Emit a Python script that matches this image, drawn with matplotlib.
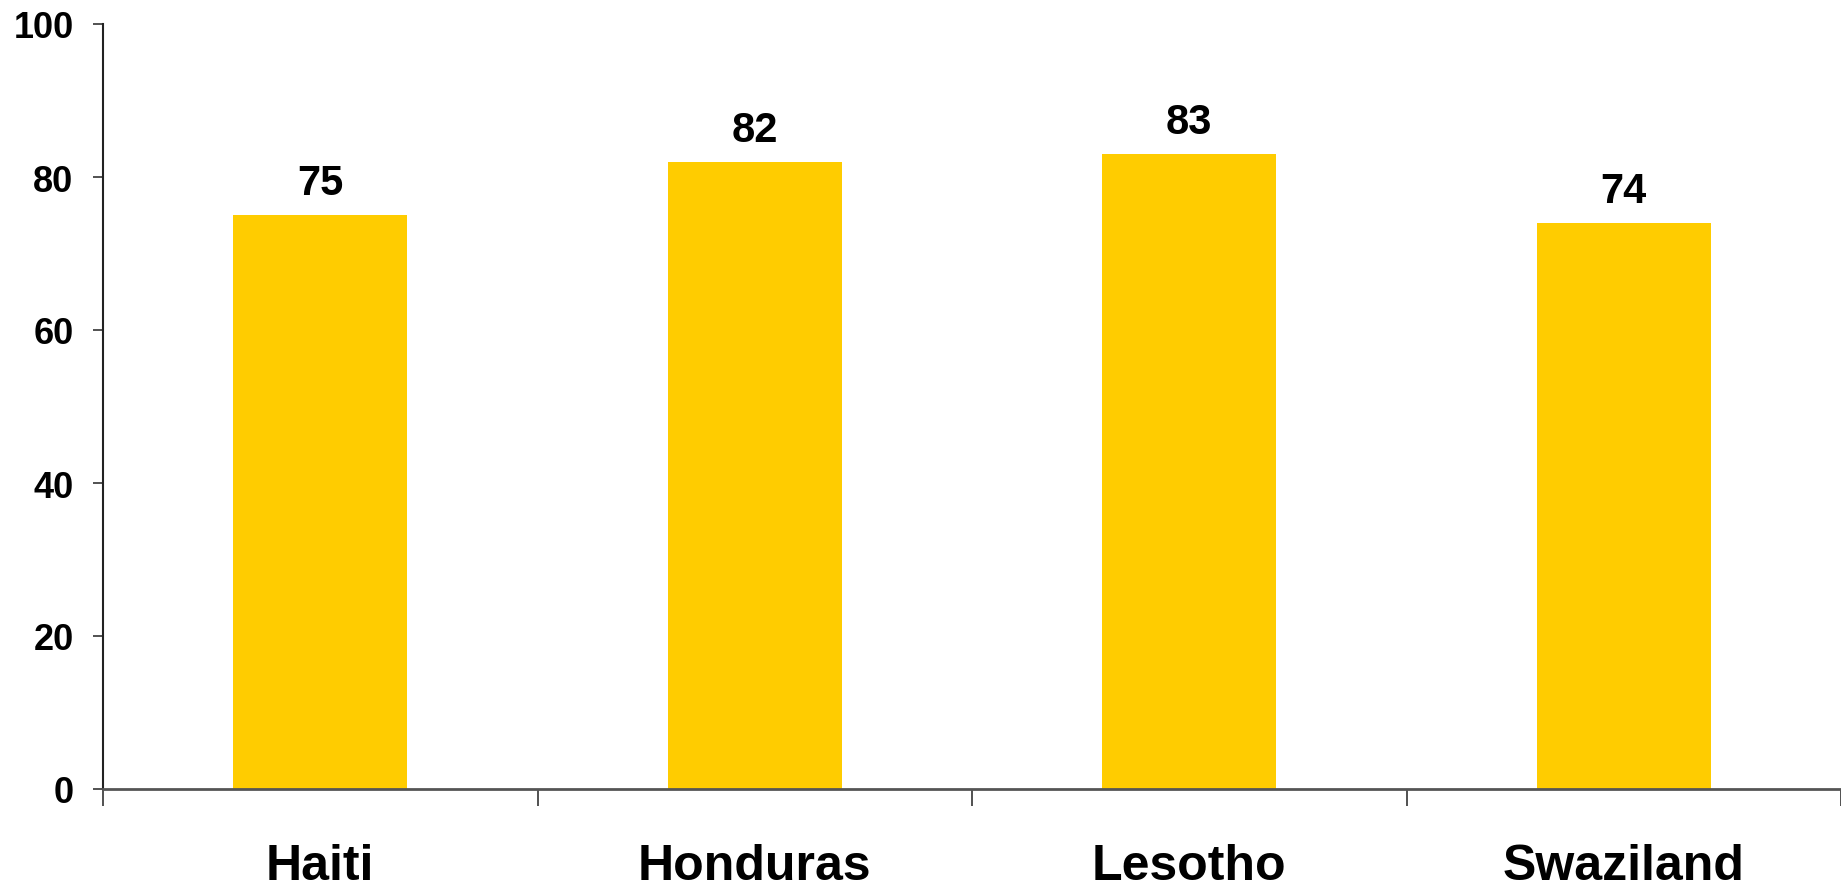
import matplotlib
matplotlib.use("Agg")
import matplotlib.pyplot as plt
import numpy as np

categories = ["Haiti", "Honduras", "Lesotho", "Swaziland"]
values = [75, 82, 83, 74]
yticks = [0, 20, 40, 60, 80, 100]

plt.rcParams['font.family'] = ['Liberation Sans', 'DejaVu Sans']

fig = plt.figure(figsize=(18.41, 8.87), dpi=100)
ax = fig.add_axes([103/1841, 1-790/887, 1-103/1841, (790-25)/887])

x = np.arange(len(categories))
ax.bar(x, values, width=0.4, color="#FFCC00", zorder=2)

for xi, v in zip(x, values):
    ax.annotate(str(v), (xi, v), xytext=(0, 15), textcoords="offset points",
                ha="center", va="baseline", fontsize=30, fontweight="bold")

ax.set_xlim(-0.5, len(categories) - 0.5)
ax.set_ylim(0, 100)
ax.set_yticks(yticks)
ax.set_yticklabels([str(t) for t in yticks], fontsize=26, fontweight="bold")
ax.tick_params(axis="y", length=7.2, width=1.2, pad=14, color="#333333")

ax.set_xticks(np.arange(len(categories) + 1) - 0.5)
ax.set_xticklabels([""] * (len(categories) + 1))
ax.tick_params(axis="x", which="major", length=12, width=1.2, color="#333333")
ax.set_xticks(x, minor=True)
ax.set_xticklabels(categories, minor=True, fontsize=36, fontweight="bold")
ax.tick_params(axis="x", which="minor", length=0, pad=39)

for s in ["top", "right"]:
    ax.spines[s].set_visible(False)
ax.spines["left"].set_color("#222222")
ax.spines["left"].set_linewidth(1.5)
ax.spines["bottom"].set_color("#555555")
ax.spines["bottom"].set_linewidth(2)

fig.savefig("out.png", dpi=100)
